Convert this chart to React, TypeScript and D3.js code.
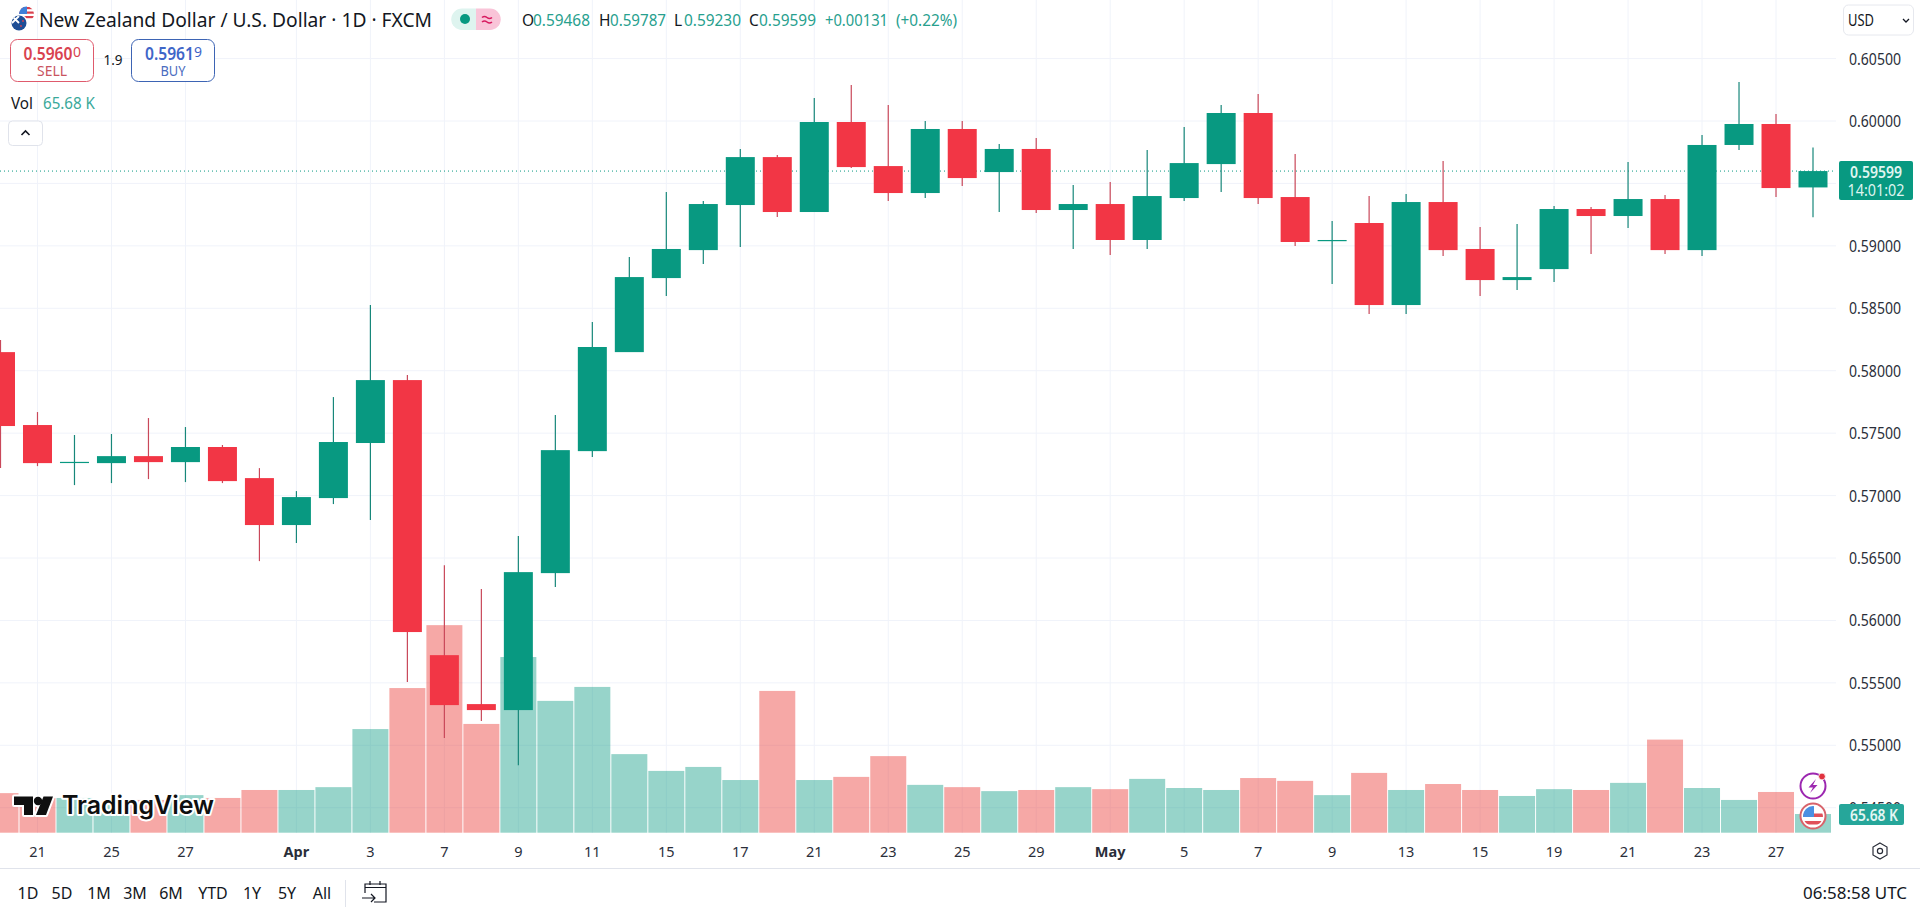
import React from "react";
import * as d3 from "d3";

const opens = [0.58149,0.57565,0.57268,0.5726,0.57316,0.57268,0.57389,0.5714,0.56764,0.5698,0.57421,0.57925,0.55722,0.5533,0.55282,0.56379,0.57356,0.58149,0.58742,0.58966,0.59327,0.59711,0.59271,0.59992,0.59639,0.59423,0.59936,0.59591,0.59776,0.59287,0.59335,0.59047,0.59383,0.59655,0.60064,0.59391,0.59044,0.59183,0.58526,0.59351,0.58975,0.58726,0.58814,0.59295,0.59239,0.59375,0.58966,0.59808,0.59976,0.59468];
const highs = [0.58246,0.57669,0.57485,0.57493,0.57621,0.57549,0.57405,0.5722,0.57036,0.57789,0.58526,0.57965,0.56443,0.56251,0.56676,0.57645,0.5839,0.5891,0.59431,0.59359,0.59776,0.59727,0.60184,0.60288,0.60128,0.6,0.6,0.59816,0.59864,0.59487,0.59511,0.59767,0.59952,0.60128,0.60216,0.59735,0.59199,0.59399,0.59415,0.59679,0.59151,0.59175,0.59319,0.59311,0.59671,0.59407,0.59888,0.60312,0.60056,0.59787];
const lows = [0.5722,0.57236,0.57084,0.571,0.57132,0.57108,0.571,0.56475,0.5662,0.56932,0.56804,0.55506,0.55058,0.55194,0.54841,0.56267,0.57308,0.58149,0.58598,0.58854,0.58991,0.59231,0.59271,0.59623,0.59359,0.59383,0.59479,0.59271,0.59263,0.58975,0.58926,0.58975,0.59359,0.59431,0.59335,0.58999,0.58694,0.58454,0.58454,0.58918,0.58598,0.58646,0.5871,0.58934,0.59143,0.58934,0.58918,0.59767,0.59391,0.5923];
const closes = [0.57557,0.5726,0.5727,0.57316,0.57268,0.57389,0.57116,0.56764,0.56988,0.57429,0.57925,0.55907,0.55322,0.55282,0.56387,0.57364,0.5819,0.5875,0.58975,0.59335,0.59711,0.59271,0.59992,0.59631,0.59423,0.59936,0.59543,0.59776,0.59287,0.59335,0.59047,0.59399,0.59663,0.60064,0.59383,0.59031,0.59047,0.58526,0.59351,0.58966,0.58726,0.5875,0.59295,0.59239,0.59375,0.58966,0.59808,0.59976,0.59463,0.59599];
const volumes = [139,122,122,97,115,132,122,150,150,160,364,508,729,382,617,463,512,276,217,231,185,498,185,196,269,168,160,146,150,160,153,189,157,150,192,182,132,210,150,171,150,129,153,150,175,327,157,115,143,65.68];

const priceTicks = [0.605,0.6,0.595,0.59,0.585,0.58,0.575,0.57,0.565,0.56,0.555,0.55,0.545];
const hiddenPriceLabels = [0.595];
const timeTickIdx = [1,3,5,8,10,12,14,16,18,20,22,24,26,28,30,32,34,36,38,40,42,44,46,48];
const timeTickLabels = ["21","25","27","Apr","3","7","9","11","15","17","21","23","25","29","May","5","7","9","13","15","19","21","23","27"];
const rangeLabels = ["1D","5D","1M","3M","6M","YTD","1Y","5Y","All"];
const rangeCenters = [28,62,99,135,171,213,252,287,322];
const lastPrice = 0.59599;

const UP = "#089981", DOWN = "#f23645", GRID = "#f0f3fa", INK = "#131722";
const FONT = "'Noto Sans', Lato, sans-serif";

const x = d3.scaleLinear().domain([0, 49]).range([0.5, 1813]);
const y = d3.scaleLinear().domain([0.6, 0.55]).range([121, 745.3]);
const v = d3.scaleLinear().domain([0, 65.68]).range([832.7, 814]);

function T(p: any) {
  const { w, children, ...r } = p;
  const extra = w ? { textLength: w, lengthAdjust: "spacingAndGlyphs" } : {};
  return <text fontFamily={FONT} fill={INK} dominantBaseline="central" {...extra} {...r}>{children}</text>;
}

function Candles() {
  return <g>{opens.map((o, i) => {
    const c = closes[i], up = c >= o, cx = x(i);
    const top = y(Math.max(o, c)), bot = y(Math.min(o, c));
    return <g key={i}>
      <line x1={cx} x2={cx} y1={y(highs[i])} y2={y(lows[i])} stroke={up ? "#17877a" : "#c9485a"} strokeWidth={1.2} />
      <rect x={cx - 14.5} width={29} y={top} height={Math.max(bot - top, 1.2)} fill={up ? UP : DOWN} />
    </g>;
  })}</g>;
}

function Volumes() {
  return <g>{volumes.map((val, i) => {
    const up = closes[i] >= opens[i];
    return <rect key={i} x={x(i) - 18} width={36} y={v(val)} height={v(0) - v(val)} fill={up ? "rgba(8,153,129,0.42)" : "rgba(234,53,48,0.43)"} />;
  })}</g>;
}

function Logo() {
  const mark = "M14 796.5H33V815H24V805H14Z";
  const slash = "M43.5 796.5H53L46 815H36Z";
  return <g>
    <g stroke="#fff" strokeWidth={4} strokeLinejoin="round" fill="#fff">
      <path d={mark} /><circle cx={38} cy={801} r={4.2} /><path d={slash} />
    </g>
    <g fill="#0f0f0f">
      <path d={mark} /><circle cx={38} cy={801} r={4.2} /><path d={slash} />
    </g>
    <text x={62} y={805} fontFamily="Inter, 'Open Sans', sans-serif" fontWeight={600} fontSize={25} fill="#0f0f0f" dominantBaseline="central" stroke="#fff" strokeWidth={4} strokeLinejoin="round" paintOrder="stroke" textLength={152} lengthAdjust="spacingAndGlyphs">TradingView</text>
  </g>;
}

function Flags() {
  return <g>
    <defs>
      <clipPath id="usc"><circle cx={26.5} cy={14} r={7.5} /></clipPath>
      <clipPath id="nzc"><circle cx={19} cy={23} r={7.5} /></clipPath>
      <clipPath id="usf"><circle cx={1813} cy={816} r={10} /></clipPath>
    </defs>
    <g clipPath="url(#usc)">
      <rect x={19} y={6} width={16} height={16} fill="#fff" />
      <rect x={19} y={7} width={16} height={2.2} fill="#d9414e" /><rect x={19} y={11.5} width={16} height={2.2} fill="#d9414e" /><rect x={19} y={16} width={16} height={2.2} fill="#d9414e" />
      <rect x={19} y={6} width={8} height={8} fill="#3f7fd8" />
    </g>
    <circle cx={19} cy={23} r={8.8} fill="#fff" />
    <g clipPath="url(#nzc)">
      <rect x={11} y={15} width={16} height={16} fill="#1e4e96" />
      <path d="M12 16L19 23M19 16L12 23" stroke="#fff" strokeWidth={1.8} />
      <circle cx={23} cy={21} r={0.9} fill="#e0414e" /><circle cx={21} cy={26} r={0.9} fill="#e0414e" />
    </g>
  </g>;
}

function Header() {
  const g = "#27a08e";
  const fs = 15.5;
  return <g>
    <Flags />
    <T x={39} y={20} fontSize={19} w={393}>New Zealand Dollar / U.S. Dollar · 1D · FXCM</T>
    <path d="M462 8.5H476V30H462A10.75 10.75 0 0 1 462 8.5Z" fill="#def4ef" />
    <path d="M476 8.5H490A10.75 10.75 0 0 1 490 30H476Z" fill="#f9c4d8" />
    <circle cx={465} cy={19} r={5} fill={UP} />
    <path d="M482 17.5Q484.5 15.5 487 17.5T492 17.5M482 22Q484.5 20 487 22T492 22" fill="none" stroke="#d81b60" strokeWidth={1.6} />
    <T x={522} y={20} fontSize={fs}>O</T><T x={533} y={20} fontSize={fs} fill={g} w={57}>0.59468</T>
    <T x={599} y={20} fontSize={fs}>H</T><T x={610} y={20} fontSize={fs} fill={g} w={56}>0.59787</T>
    <T x={674} y={20} fontSize={fs}>L</T><T x={684} y={20} fontSize={fs} fill={g} w={57}>0.59230</T>
    <T x={749} y={20} fontSize={fs}>C</T><T x={759} y={20} fontSize={fs} fill={g} w={57}>0.59599</T>
    <T x={825} y={20} fontSize={fs} fill={g} w={63}>+0.00131</T>
    <T x={896} y={20} fontSize={fs} fill={g} w={61}>(+0.22%)</T>

    <rect x={10.5} y={39.5} width={83} height={42} rx={7} fill="#fff" stroke="#df5a6c" />
    <T x={23.5} y={53} fontSize={17} fontWeight={600} fill="#d9434f" w={49}>0.5960</T>
    <T x={73} y={51} fontSize={14} fill="#d9434f">0</T>
    <T x={52} y={70} fontSize={14} fill="#c9545f" textAnchor="middle" w={30}>SELL</T>
    <T x={113} y={60} fontSize={13.5} textAnchor="middle">1.9</T>
    <rect x={131.5} y={39.5} width={83} height={42} rx={7} fill="#fff" stroke="#3d64b4" />
    <T x={145} y={53} fontSize={17} fontWeight={600} fill="#3f66c8" w={49}>0.5961</T>
    <T x={194} y={51} fontSize={14} fill="#3f66c8">9</T>
    <T x={173} y={70} fontSize={14} fill="#4a6cc0" textAnchor="middle" w={25}>BUY</T>

    <T x={11} y={102} fontSize={16.5} w={22}>Vol</T>
    <T x={43} y={102} fontSize={16.5} fill="#3aa99a" w={52}>65.68 K</T>
    <rect x={8.5} y={121} width={34} height={24.5} rx={4} fill="#fff" stroke="#e0e3eb" />
    <path d="M21.5 135L25.5 131L29.5 135" fill="none" stroke={INK} strokeWidth={1.6} />

    <rect x={1843.5} y={5} width={70} height={30} rx={5} fill="#fff" stroke="#e6e8ee" />
    <T x={1848} y={20} fontSize={16} w={26}>USD</T>
    <path d="M1903 19L1906 22L1909 19" fill="none" stroke={INK} strokeWidth={1.3} />
  </g>;
}

function PriceAxis() {
  return <g>
    {priceTicks.filter(t => !hiddenPriceLabels.includes(t)).map(t => <T key={t} x={1849} y={y(t)} fontSize={15.5} fill="#2a2e39" w={52}>{t.toFixed(5)}</T>)}
    <rect x={1839} y={161} width={74} height={39} rx={2} fill={UP} />
    <T x={1876} y={171.5} fontSize={15.5} fontWeight={600} fill="#dff5f0" textAnchor="middle" w={52}>{lastPrice.toFixed(5)}</T>
    <T x={1876} y={190} fontSize={15.5} fill="#dff5f0" textAnchor="middle" w={57}>14:01:02</T>
    <rect x={1839} y={804} width={65} height={21} rx={2} fill="#26a69a" />
    <T x={1850} y={815} fontSize={15.5} fontWeight={600} fill="#e4f6f3" w={48}>65.68 K</T>
  </g>;
}

function TimeAxis() {
  return <g>
    {timeTickIdx.map((i, k) => {
      const l = timeTickLabels[k], b = isNaN(+l);
      return <T key={i} x={x(i)} y={851} fontSize={14.5} fontWeight={b ? 700 : 400} fill="#2a2e39" textAnchor="middle">{l}</T>;
    })}
    <path d="M1880 843L1887 847V855L1880 859L1873 855V847Z" fill="none" stroke="#2a2e39" strokeWidth={1.2} />
    <circle cx={1880} cy={851} r={2.6} fill="none" stroke="#2a2e39" strokeWidth={1.2} />
    <line x1={0} x2={1920} y1={868.5} y2={868.5} stroke="#e0e3eb" />
    {rangeLabels.map((l, i) => <T key={l} x={rangeCenters[i]} y={893} fontSize={16} textAnchor="middle">{l}</T>)}
    <line x1={345.5} x2={345.5} y1={880} y2={907} stroke="#e0e3eb" />
    <g fill="none" stroke={INK} strokeWidth={1.2}>
      <path d="M365 893V884H386V902H374" />
      <path d="M365 887.5H386M370 881V885M380 881V885" />
      <path d="M362 898H375M371 894L375 898L371 902" />
    </g>
    <T x={1803} y={893} fontSize={16} w={104}>06:58:58 UTC</T>
  </g>;
}

function FloatIcons() {
  return <g>
    <circle cx={1813} cy={786} r={12.5} fill="#fff" stroke="#9c27b0" strokeWidth={2} />
    <path d="M1816 779L1808.5 787.5H1813L1810 793L1817.5 785H1813Z" fill="#9c27b0" />
    <circle cx={1822} cy={776.5} r={3.4} fill="#e0313f" stroke="#fff" strokeWidth={0.8} />
    <circle cx={1813} cy={816} r={12.5} fill="#fff" stroke="#d8636b" strokeWidth={2} />
    <g clipPath="url(#usf)">
      <rect x={1803} y={806} width={20} height={20} fill="#fff" />
      <rect x={1803} y={813.5} width={20} height={3.5} fill="#e0505a" />
      <rect x={1803} y={821} width={20} height={3.5} fill="#e0505a" />
      <rect x={1803} y={806} width={11} height={11} fill="#4a90e2" />
    </g>
  </g>;
}

export default function App() {
  return <svg width={1920} height={911} viewBox="0 0 1920 911" style={{ position: "absolute", left: 0, top: 0, display: "block", background: "#fff" }}>
    <rect width={1920} height={911} fill="#fff" />
    <g stroke={GRID}>
      {timeTickIdx.map(i => <line key={i} x1={x(i)} x2={x(i)} y1={0} y2={833} />)}
      {priceTicks.map(t => <line key={t} x1={0} x2={1836} y1={y(t)} y2={y(t)} />)}
    </g>
    <Volumes />
    <line x1={0} x2={1836} y1={y(lastPrice)} y2={y(lastPrice)} stroke={UP} strokeDasharray="1 3" />
    <Candles />
    <Logo />
    <Header />
    <PriceAxis />
    <TimeAxis />
    <FloatIcons />
  </svg>;
}
